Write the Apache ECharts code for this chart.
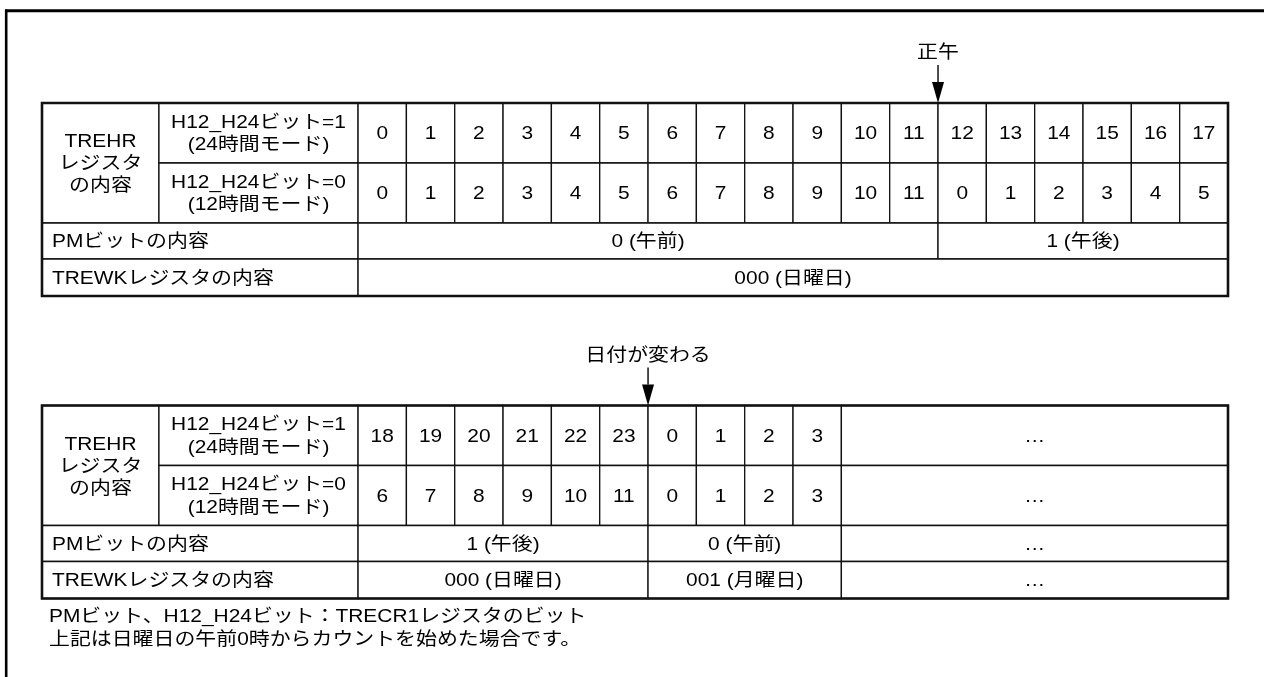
<!DOCTYPE html>
<html>
<head>
<meta charset="utf-8">
<script src="https://cdn.jsdelivr.net/npm/echarts@6/dist/echarts.min.js"></script>
<style>html,body{margin:0;padding:0;background:#fff;}#c{width:1264px;height:677px;}</style>
</head>
<body>
<div id="c"></div>
<script>
// ---------- DATA ----------
const rowLabelMain = 'TREHR\nレジスタ\nの内容';
const modeLabels = ['H12_H24ビット=1\n(24時間モード)', 'H12_H24ビット=0\n(12時間モード)'];
const pmLabel = 'PMビットの内容';
const wkLabel = 'TREWKレジスタの内容';

// Table A (upper)
const hours24A = [0,1,2,3,4,5,6,7,8,9,10,11,12,13,14,15,16,17];
const hours12A = [0,1,2,3,4,5,6,7,8,9,10,11,0,1,2,3,4,5];
const pmSpansA = [['0 (午前)', 0, 12], ['1 (午後)', 12, 18]];
const wkSpansA = [['000 (日曜日)', 0, 18]];
const markerA = ['正午', 12];

// Table B (lower)
const hours24B = [18,19,20,21,22,23,0,1,2,3];
const hours12B = [6,7,8,9,10,11,0,1,2,3];
const pmSpansB = [['1 (午後)', 0, 6], ['0 (午前)', 6, 10]];
const wkSpansB = [['000 (日曜日)', 0, 6], ['001 (月曜日)', 6, 10]];
const markerB = ['日付が変わる', 6];
const continuation = '…';

const notes = ['PMビット、H12_H24ビット：TRECR1レジスタのビット', '上記は日曜日の午前0時からカウントを始めた場合です。'];

// ---------- LAYOUT ----------
const TOTAL_COLS = 18;
const LABEL_EDGES = [-6.54, -4.12, 0];   // label column edges in hour-column units
const ROW_EDGES = [0, 60, 120, 156, 193]; // row edges in table units
const FS = 18.5;
const SX = 1.13;                          // horizontal text stretch of the source drawing
const FF = '"Liberation Sans", Arial, "Noto Sans CJK JP", sans-serif';
const GRID_TOPS = [103, 405.5];

function buildCells(h24, h12, pmSpans, wkSpans) {
  const cells = [];
  cells.push({x0: LABEL_EDGES[0], x1: LABEL_EDGES[1], r0: 0, r1: 2, text: rowLabelMain, lh: 22});
  cells.push({x0: LABEL_EDGES[1], x1: LABEL_EDGES[2], r0: 0, r1: 1, text: modeLabels[0], lh: 22.5});
  cells.push({x0: LABEL_EDGES[1], x1: LABEL_EDGES[2], r0: 1, r1: 2, text: modeLabels[1], lh: 22.5});
  cells.push({x0: LABEL_EDGES[0], x1: LABEL_EDGES[2], r0: 2, r1: 3, text: pmLabel, left: true});
  cells.push({x0: LABEL_EDGES[0], x1: LABEL_EDGES[2], r0: 3, r1: 4, text: wkLabel, left: true});
  h24.forEach((v, i) => cells.push({x0: i, x1: i + 1, r0: 0, r1: 1, text: String(v)}));
  h12.forEach((v, i) => cells.push({x0: i, x1: i + 1, r0: 1, r1: 2, text: String(v)}));
  pmSpans.forEach(s => cells.push({x0: s[1], x1: s[2], r0: 2, r1: 3, text: s[0]}));
  wkSpans.forEach(s => cells.push({x0: s[1], x1: s[2], r0: 3, r1: 4, text: s[0]}));
  const n = h24.length;
  if (n < TOTAL_COLS) {
    for (let r = 0; r < 4; r++) cells.push({x0: n, x1: TOTAL_COLS, r0: r, r1: r + 1, text: continuation});
  }
  return cells;
}

const tables = [
  {cells: buildCells(hours24A, hours12A, pmSpansA, wkSpansA), marker: markerA},
  {cells: buildCells(hours24B, hours12B, pmSpansB, wkSpansB), marker: markerB}
];

function textEl(text, x, y, align, lh) {
  return {type: 'text', z2: 10, x: x, y: y, scaleX: SX, style: {
    text: text, x: 0, y: 0, align: align, verticalAlign: 'middle',
    fontSize: FS, fontFamily: FF, fill: '#000', lineHeight: lh || 21}};
}

function cellRenderer(cells) {
  return function (params, api) {
    const c = cells[params.dataIndex];
    const p0 = api.coord([c.x0, ROW_EDGES[c.r0]]);
    const p1 = api.coord([c.x1, ROW_EDGES[c.r1]]);
    return {
      type: 'group',
      children: [
        {type: 'rect', shape: {x: p0[0], y: p0[1], width: p1[0] - p0[0], height: p1[1] - p0[1]},
         style: {fill: '#fff', stroke: '#111', lineWidth: 1.3}},
        textEl(c.text, c.left ? p0[0] + 10 : (p0[0] + p1[0]) / 2, (p0[1] + p1[1]) / 2 + 1,
               c.left ? 'left' : 'center', c.lh)
      ]
    };
  };
}

function borderRenderer(params, api) {
  const p0 = api.coord([LABEL_EDGES[0], ROW_EDGES[0]]);
  const p1 = api.coord([TOTAL_COLS, ROW_EDGES[ROW_EDGES.length - 1]]);
  return {type: 'rect', shape: {x: p0[0], y: p0[1], width: p1[0] - p0[0], height: p1[1] - p0[1]},
          style: {fill: null, stroke: '#111', lineWidth: 2.6}};
}

function markerRenderer(marker) {
  return function (params, api) {
    const top = api.coord([marker[1], -38]);
    const tri = api.coord([marker[1], -21]);
    const tip = api.coord([marker[1], 0]);
    const txt = api.coord([marker[1], -50]);
    return {
      type: 'group',
      children: [
        {type: 'line', shape: {x1: top[0], y1: top[1], x2: tri[0], y2: tri[1]}, style: {stroke: '#000', lineWidth: 1.4}},
        {type: 'polygon', shape: {points: [[tri[0] - 6, tri[1]], [tri[0] + 6, tri[1]], [tip[0], tip[1]]]}, style: {fill: '#000'}},
        textEl(marker[0], txt[0], txt[1], 'center')
      ]
    };
  };
}

const grids = [], xAxes = [], yAxes = [], series = [];
tables.forEach((t, i) => {
  grids.push({left: 42, right: 36, top: GRID_TOPS[i], height: 193});
  xAxes.push({type: 'value', gridIndex: i, min: LABEL_EDGES[0], max: TOTAL_COLS, show: false});
  yAxes.push({type: 'value', gridIndex: i, min: 0, max: ROW_EDGES[ROW_EDGES.length - 1], inverse: true, show: false});
  series.push({type: 'custom', xAxisIndex: i, yAxisIndex: i, silent: true, clip: false,
    data: t.cells.map(c => [(c.x0 + c.x1) / 2, (ROW_EDGES[c.r0] + ROW_EDGES[c.r1]) / 2]),
    renderItem: cellRenderer(t.cells)});
  series.push({type: 'custom', xAxisIndex: i, yAxisIndex: i, silent: true, clip: false, z: 3,
    data: [[0, 0]], renderItem: borderRenderer});
  series.push({type: 'custom', xAxisIndex: i, yAxisIndex: i, silent: true, clip: false, z: 4,
    data: [[t.marker[1], 0]], renderItem: markerRenderer(t.marker)});
});

const chart = echarts.init(document.getElementById('c'), null, {renderer: 'canvas'});
chart.setOption({
  animation: false,
  backgroundColor: '#fff',
  grid: grids, xAxis: xAxes, yAxis: yAxes, series: series,
  graphic: [
    {type: 'line', shape: {x1: 6.2, y1: 9.5, x2: 6.2, y2: 677}, style: {stroke: '#000', lineWidth: 2.6}},
    {type: 'line', shape: {x1: 5, y1: 10.8, x2: 1264, y2: 10.8}, style: {stroke: '#000', lineWidth: 3}},
    {type: 'text', x: 49, y: 628.5, scaleX: SX, style: {text: notes.join('\n'), x: 0, y: 0, verticalAlign: 'middle', fontSize: FS, fontFamily: FF, fill: '#000', lineHeight: 23}}
  ]
});
</script>
</body>
</html>
